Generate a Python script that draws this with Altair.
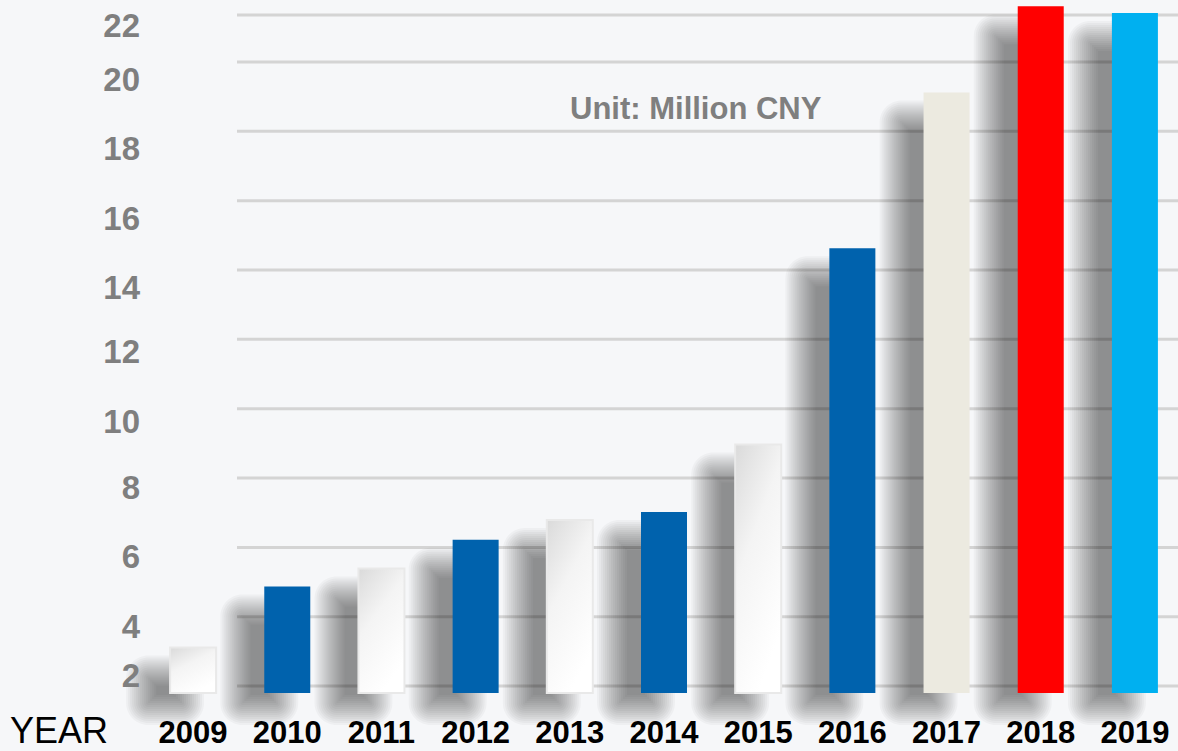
import altair as alt
import pandas as pd

years = ["2009", "2010", "2011", "2012", "2013", "2014", "2015", "2016", "2017", "2018", "2019"]
values = [3.11, 4.87, 5.39, 6.22, 6.79, 7.02, 8.97, 14.63, 19.12, 22.37, 22.09]
kinds = ["white", "blue", "white", "blue", "white", "blue", "white", "blue", "beige", "red", "cyan"]
palette = {"blue": "#0062AD", "beige": "#ECEAE0", "red": "#FF0000", "cyan": "#00B0F0", "white": "#FFFFFF"}
grid_values = [2, 4, 6, 8, 10, 12, 14, 16, 18, 20, 22]
tick_labels = [2, 4, 6, 8, 10, 12, 14, 16, 18, 20, 22]
unit_text = "Unit: Million CNY"
x_title = "YEAR"
baseline = 1.8

df = pd.DataFrame({"year": years, "value": values, "kind": kinds,
                   "color": [palette[k] for k in kinds]})
df["base"] = baseline
grid_df = pd.DataFrame({"g": grid_values})
tick_df = pd.DataFrame({"t": tick_labels})

FONT = "Liberation Sans"
W, H = 1028, 700

yscale = alt.Scale(domain=[baseline, 20, 22], range=[693, 62, 15], zero=False, nice=False)
xscale = alt.Scale(paddingInner=0.511, paddingOuter=0.213)
X = alt.X("year:N", scale=xscale, sort=years, axis=None)

grid = alt.Chart(grid_df).mark_rule(color="#D4D4D4", strokeWidth=3).encode(
    y=alt.Y("g:Q", scale=yscale, axis=None),
    x=alt.value(87), x2=alt.value(W),
)

base = alt.Chart(df)

shadows = []
for e in range(-14, 18, 2):
    shadows.append(
        base.mark_bar(color="#000000", opacity=0.032, width=46 + 2 * e, xOffset=-28,
                      yOffset=24 - e, y2Offset=16 + e, cornerRadius=max(e + 6, 0)).encode(
            x=X,
            y=alt.Y("value:Q", scale=yscale, axis=None),
            y2="base:Q",
        )
    )

solid = base.transform_filter("datum.kind != 'white'").mark_bar(width=46).encode(
    x=X,
    y=alt.Y("value:Q", scale=yscale, axis=None),
    y2="base:Q",
    color=alt.Color("color:N", scale=None),
)

white = base.transform_filter("datum.kind == 'white'").mark_bar(
    width=46, stroke="#E9E9E9", strokeWidth=2,
    color=alt.LinearGradient(
        gradient="linear",
        stops=[alt.GradientStop(color="#DADADA", offset=0),
               alt.GradientStop(color="#F4F4F4", offset=0.45),
               alt.GradientStop(color="#FFFFFF", offset=1)],
        x1=0, y1=0, x2=0.5, y2=1,
    ),
).encode(
    x=X,
    y=alt.Y("value:Q", scale=yscale, axis=None),
    y2="base:Q",
)

ylab_style = dict(font=FONT, fontSize=33, fontWeight="bold", color="#7F7F7F",
                  align="right", baseline="middle")
label_groups = [
    ("datum.t == 22", 12),
    ("datum.t >= 14 && datum.t <= 20", 19),
    ("datum.t >= 10 && datum.t <= 12", 14),
    ("datum.t >= 4 && datum.t <= 8", 11),
    ("datum.t == 2", -9),
]
ylabel_layers = [
    alt.Chart(tick_df).transform_filter(test).mark_text(dy=dy, **ylab_style).encode(
        y=alt.Y("t:Q", scale=yscale, axis=None), x=alt.value(-10), text="t:Q")
    for test, dy in label_groups
]

xlabels = base.mark_text(font=FONT, fontSize=31, fontWeight="bold", color="#000000",
                         align="center", baseline="alphabetic").encode(
    x=X, y=alt.value(743), text="year:N")

title = alt.Chart(pd.DataFrame({"t": [x_title]})).mark_text(
    font=FONT, fontSize=36, color="#000000", align="left", baseline="alphabetic"
).encode(x=alt.value(-140), y=alt.value(743), text="t:N")

unit = alt.Chart(pd.DataFrame({"t": [unit_text]})).mark_text(
    font=FONT, fontSize=31, fontWeight="bold", color="#7F7F7F", align="left", baseline="middle"
).encode(x=alt.value(420), y=alt.value(110), text="t:N")

chart = alt.layer(grid, *shadows, solid, white, *ylabel_layers, xlabels, title, unit).properties(
    width=W, height=H,
    autosize=alt.AutoSizeParams(type="none"),
    padding={"left": 150, "right": 0, "top": 0, "bottom": 51},
    background="#F6F7F9",
).configure_view(stroke=None)

chart.save("out.html", embed_options={"renderer": "svg", "actions": False})
